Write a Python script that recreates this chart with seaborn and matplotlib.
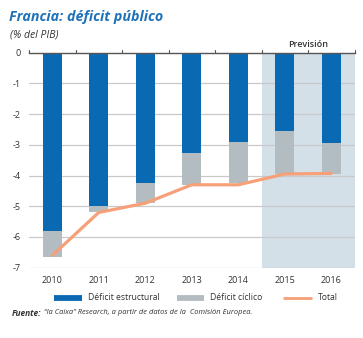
import numpy as np
import pandas as pd
import matplotlib
matplotlib.use("Agg")
import matplotlib.pyplot as plt
import seaborn as sns
from matplotlib.lines import Line2D

years = ["2010", "2011", "2012", "2013", "2014", "2015", "2016"]
structural = [-5.8, -5.0, -4.25, -3.25, -2.9, -2.55, -2.95]
cyclical = [-0.85, -0.2, -0.65, -1.05, -1.35, -1.4, -1.0]
total = [-6.6, -5.2, -4.9, -4.3, -4.3, -3.95, -3.93]
forecast_years = ["2015", "2016"]
yticks = [0, -1, -2, -3, -4, -5, -6, -7]
legend_labels = ["Déficit estructural", "Déficit cíclico", "Total"]

BLUE = "#0a69b3"
GREY = "#b3bdc1"
ORANGE = "#f5a078"
SHADE = "#d3e0e8"
TITLE_BLUE = "#1f72b8"
TEXT = "#333333"

sns.set_theme(style="white")
plt.rcParams["font.family"] = ["Open Sans", "DejaVu Sans"]

df = pd.DataFrame({
    "year": years,
    "structural": structural,
    "cyclical": cyclical,
    "total": total,
})
df["combined"] = df["structural"] + df["cyclical"]
df["pos"] = np.arange(len(years))

W, H = 363, 338
fig = plt.figure(figsize=(W / 100, H / 100), dpi=100)
ax = fig.add_axes([0.08, 0.208, 0.8966, 0.636])

# forecast band
first = years.index(forecast_years[0])
ax.axvspan(first - 0.5, len(years) - 0.5, color=SHADE, zorder=0, lw=0)

# gridlines
for v in yticks[1:]:
    ax.axhline(v, color="#c9c9c9", lw=0.9, zorder=0.5)

# stacked bars: combined (cyclical part shows) behind structural
sns.barplot(data=df, x="year", y="combined", color=GREY, width=0.41,
            saturation=1, ax=ax, zorder=2, linewidth=0, order=years)
sns.barplot(data=df, x="year", y="structural", color=BLUE, width=0.41,
            saturation=1, ax=ax, zorder=3, linewidth=0, order=years)
sns.lineplot(data=df, x="pos", y="total", color=ORANGE, lw=2.3, ax=ax,
             zorder=4, sort=False)

ax.set_xlim(-0.5, len(years) - 0.5)
ax.set_ylim(-7, 0)
ax.set_yticks(yticks)
ax.set_yticklabels([str(v) for v in yticks], fontsize=6.5, color=TEXT)
ax.set_xticks(range(len(years)))
ax.set_xticklabels(years, fontsize=6.5, color=TEXT)
ax.tick_params(axis="both", length=0)
ax.tick_params(axis="x", pad=6)
ax.tick_params(axis="y", pad=6)
ax.set_xlabel("")
ax.set_ylabel("")
for s in ["left", "right", "bottom"]:
    ax.spines[s].set_visible(False)
ax.spines["top"].set_visible(True)
ax.spines["top"].set_color("#555555")
ax.spines["top"].set_linewidth(1.0)
ax.spines["top"].set_zorder(5)

# small ticks on the zero line at category boundaries
for b in np.arange(-0.5, len(years), 1.0):
    ax.plot([b, b], [0, 0.08], color="#555555", lw=0.8, clip_on=False, zorder=5)

ax.text((first - 0.5 + len(years) - 0.5) / 2, 0.12, "Previsión", ha="center",
        va="bottom", fontsize=6.5, color=TEXT, fontweight="semibold")

fig.text(0.026, 0.951, "Francia: déficit público", fontsize=10.3, color=TITLE_BLUE,
         fontweight="bold", fontstyle="italic", va="center", ha="left")
fig.text(0.027, 0.896, "(% del PIB)", fontsize=7.5, color=TEXT,
         fontstyle="italic", va="center", ha="left")

# legend row, laid out in pixel positions
leg_y = 1 - 298 / H
handles = [(54, 82, BLUE, 4.2), (177, 204, GREY, 4.2), (283, 312, ORANGE, 2.0)]
for (x0, x1, c, lw), lab in zip(handles, legend_labels):
    fig.add_artist(Line2D([x0 / W, x1 / W], [leg_y, leg_y], color=c, lw=lw,
                          transform=fig.transFigure, solid_capstyle="butt"))
    fig.text((x1 + 6) / W, leg_y, lab, fontsize=6.2, color=TEXT,
             va="center", ha="left")

# source line: bold lead-in followed by the rest
src_y = 1 - 313 / H
t1 = fig.text(12 / W, src_y, "Fuente:", fontsize=6.0, color=TEXT,
              fontweight="bold", fontstyle="italic", va="center", ha="left")
fig.canvas.draw()
bb = t1.get_window_extent(fig.canvas.get_renderer())
fig.text((bb.x1 + 2) / W, src_y,
         "“la Caixa” Research, a partir de datos de la  Comisión Europea.",
         fontsize=5.4, color=TEXT, fontstyle="italic", va="center", ha="left")

fig.savefig("out.png", dpi=100, facecolor="white")
